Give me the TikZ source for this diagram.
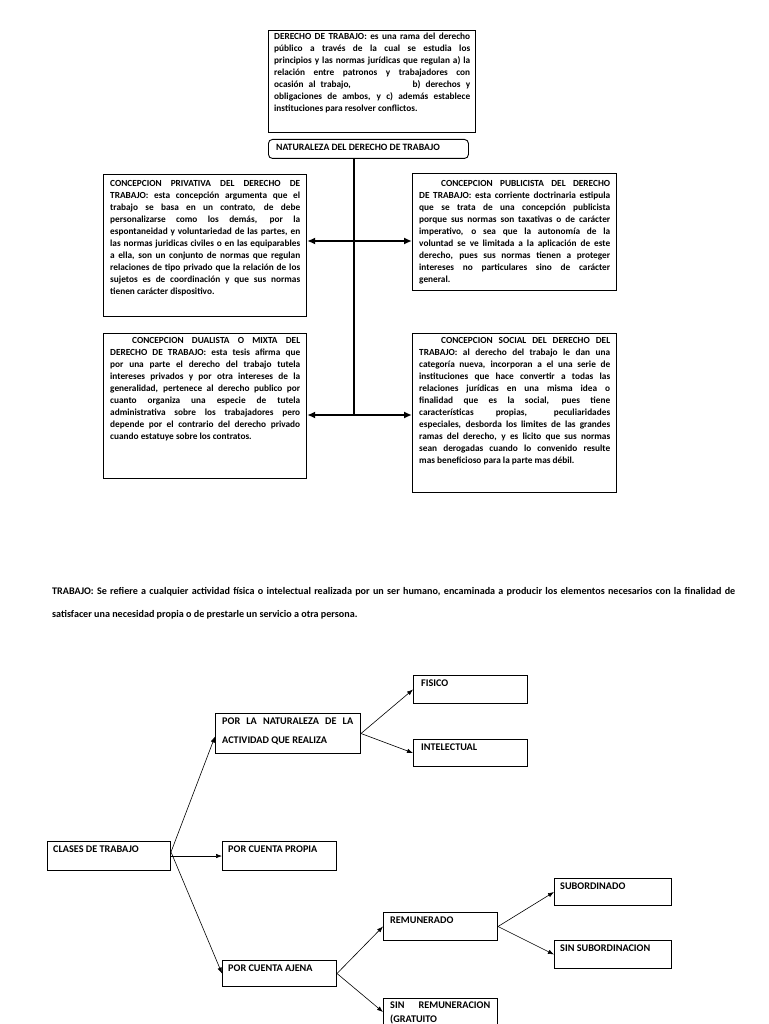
\documentclass[tikz,border=0pt]{standalone}
\usepackage{fontspec}
\setmainfont{Carlito}
\usetikzlibrary{arrows.meta}
\newcommand\jpar[2]{\parbox[t]{#1}{\fontsize{9.3}{12}\selectfont\bfseries\tolerance=10000\hyphenpenalty=10000\emergencystretch=20pt #2}}
\tikzset{
  bx/.style={draw=black, line width=1.1pt, anchor=north west, inner sep=0pt},
  sbx/.style={draw=black, line width=1pt, anchor=north west, inner sep=0pt},
  txt/.style={anchor=north west, inner sep=0pt},
  stxt/.style={anchor=north west, inner sep=0pt, font=\fontsize{10.2}{19}\selectfont\bfseries},
  dbl/.style={line width=1.6pt, {Latex[length=8pt,width=7pt]}-{Latex[length=8pt,width=7pt]}},
  trunk/.style={line width=1.6pt},
  arr/.style={line width=0.6pt, -{Latex[length=6pt,width=4.5pt]}}
}
\begin{document}
\begin{tikzpicture}[x=1pt,y=-1pt]
\useasboundingbox (0,0) rectangle (768,1024);
\fill[white] (0,0) rectangle (768,1024);

% top definition box
\node[bx, minimum width=207pt, minimum height=102pt] (def) at (268,30) {};
\node[txt] (deft) at ([xshift=6pt,yshift=-3pt]def.north west) {\jpar{196pt}{%
DERECHO DE TRABAJO: es una rama del derecho\linebreak
público a través de la cual se estudia los\linebreak
principios y las normas jurídicas que regulan a) la\linebreak
relación entre patronos y trabajadores con\linebreak
ocasión al trabajo, \hspace{50pt} b) derechos y\linebreak
obligaciones de ambos, y c) además establece\linebreak
instituciones para resolver conflictos.}};

% naturaleza box
\node[bx, line width=0.9pt, rounded corners=4pt, minimum width=200pt, minimum height=19pt] (nat) at (268,139) {};
\node[txt, font=\fontsize{9.7}{12}\selectfont\bfseries] (natt) at ([xshift=8pt,yshift=-5pt]nat.north west) {NATURALEZA DEL DERECHO DE TRABAJO};

% four concept boxes
\node[bx, minimum width=203pt, minimum height=142pt] (priv) at (103,174) {};
\node[txt] (privt) at ([xshift=7pt,yshift=-6pt]priv.north west) {\jpar{190pt}{%
CONCEPCION PRIVATIVA DEL DERECHO DE\linebreak
TRABAJO: esta concepción argumenta que el\linebreak
trabajo se basa en un contrato, de debe\linebreak
personalizarse como los demás, por la\linebreak
espontaneidad y voluntariedad de las partes, en\linebreak
las normas juridicas civiles o en las equiparables\linebreak
a ella, son un conjunto de normas que regulan\linebreak
relaciones de tipo privado que la relación de los\linebreak
sujetos es de coordinación y que sus normas\linebreak
tienen carácter dispositivo.}};

\node[bx, minimum width=204pt, minimum height=117pt] (pub) at (412,173) {};
\node[txt] (pubt) at ([xshift=7pt,yshift=-7pt]pub.north west) {\jpar{191pt}{%
\hspace*{22pt}CONCEPCION PUBLICISTA DEL DERECHO\linebreak
DE TRABAJO: esta corriente doctrinaria estipula\linebreak
que se trata de una concepción publicista\linebreak
porque sus normas son taxativas o de carácter\linebreak
imperativo, o sea que la autonomía de la\linebreak
voluntad se ve limitada a la aplicación de este\linebreak
derecho, pues sus normas tienen a proteger\linebreak
intereses no particulares sino de carácter\linebreak
general.}};

\node[bx, minimum width=203pt, minimum height=145pt] (dual) at (103,333) {};
\node[txt] (dualt) at ([xshift=7pt,yshift=-4pt]dual.north west) {\jpar{190pt}{%
\hspace*{22pt}CONCEPCION DUALISTA O MIXTA DEL\linebreak
DERECHO DE TRABAJO: esta tesis afirma que\linebreak
por una parte el derecho del trabajo tutela\linebreak
intereses privados y por otra intereses de la\linebreak
generalidad, pertenece al derecho publico por\linebreak
cuanto organiza una especie de tutela\linebreak
administrativa sobre los trabajadores pero\linebreak
depende por el contrario del derecho privado\linebreak
cuando estatuye sobre los contratos.}};

\node[bx, minimum width=204pt, minimum height=159pt] (soc) at (412,333) {};
\node[txt] (soct) at ([xshift=7pt,yshift=-4pt]soc.north west) {\jpar{191pt}{%
\hspace*{22pt}CONCEPCION SOCIAL DEL DERECHO DEL\linebreak
TRABAJO: al derecho del trabajo le dan una\linebreak
categoría nueva, incorporan a el una serie de\linebreak
instituciones que hace convertir a todas las\linebreak
relaciones jurídicas en una misma idea o\linebreak
finalidad que es la social, pues tiene\linebreak
características propias, peculiaridades\linebreak
especiales, desborda los limites de las grandes\linebreak
ramas del derecho, y es licito que sus normas\linebreak
sean derogadas cuando lo convenido resulte\linebreak
mas beneficioso para la parte mas débil.}};

% trunk and double arrows
\coordinate (j1) at (354,241);
\coordinate (j2) at (354,415);
\draw[trunk] (j1 |- nat.south) -- (j2);
\draw[dbl] (j1 -| priv.east) -- (j1 -| pub.west);
\draw[dbl] (j2 -| dual.east) -- (j2 -| soc.west);

% TRABAJO paragraph
\node[txt] (trab) at (52,587) {\parbox[t]{683pt}{\fontsize{10.1}{23}\selectfont\bfseries\tolerance=10000\hyphenpenalty=10000
TRABAJO: Se refiere a cualquier actividad física o intelectual realizada por un ser humano, encaminada a producir los elementos necesarios con la finalidad de\linebreak
satisfacer una necesidad propia o de prestarle un servicio a otra persona.}};

% lower tree
\node[sbx, minimum width=114pt, minimum height=28pt] (fis) at (413,675) {};
\node[stxt] at ([xshift=8pt,yshift=-5pt]fis.north west) {FISICO};
\node[sbx, minimum width=145pt, minimum height=40pt] (pln) at (215,713) {};
\node[stxt] at ([xshift=7pt,yshift=-5pt]pln.north west) {\parbox[t]{131pt}{POR LA NATURALEZA DE LA\linebreak ACTIVIDAD QUE REALIZA}};
\node[sbx, minimum width=114pt, minimum height=27pt] (int) at (413,739) {};
\node[stxt] at ([xshift=8pt,yshift=-5pt]int.north west) {INTELECTUAL};
\node[sbx, minimum width=123pt, minimum height=29pt] (cla) at (47,841) {};
\node[stxt] at ([xshift=6pt,yshift=-5pt]cla.north west) {CLASES DE TRABAJO};
\node[sbx, minimum width=114pt, minimum height=29pt] (pro) at (222,841) {};
\node[stxt] at ([xshift=6pt,yshift=-5pt]pro.north west) {POR CUENTA PROPIA};
\node[sbx, minimum width=117pt, minimum height=27pt] (sub) at (554,878) {};
\node[stxt] at ([xshift=6pt,yshift=-5pt]sub.north west) {SUBORDINADO};
\node[sbx, minimum width=114pt, minimum height=28pt] (rem) at (383,912) {};
\node[stxt] at ([xshift=7pt,yshift=-5pt]rem.north west) {REMUNERADO};
\node[sbx, minimum width=117pt, minimum height=28pt] (sin) at (554,940) {};
\node[stxt] at ([xshift=6pt,yshift=-5pt]sin.north west) {SIN SUBORDINACION};
\node[sbx, minimum width=114pt, minimum height=26pt] (aje) at (222,960) {};
\node[stxt] at ([xshift=6pt,yshift=-5pt]aje.north west) {POR CUENTA AJENA};
\node[sbx, minimum width=114pt, minimum height=40pt] (grat) at (383,998) {};
\node[stxt, font=\fontsize{10.2}{14}\selectfont\bfseries] at ([xshift=7pt,yshift=-4pt]grat.north west) {\parbox[t]{100pt}{SIN \hfill REMUNERACION\linebreak (GRATUITO}};

\coordinate (cl) at ([yshift=4pt]cla.east);
\draw[arr] (pln.east) -- (fis.west);
\draw[arr] (pln.east) -- (int.west);
\draw[arr] (cl) -- ([yshift=-3pt]pln.west);
\draw[arr] (cla.east) -- (pro.west);
\draw[arr] (cl) -- (aje.west);
\draw[arr] (aje.east) -- (rem.west);
\draw[arr] (aje.east) -- ([yshift=-14pt]grat.north west);
\draw[arr] (rem.east) -- (sub.west);
\draw[arr] (rem.east) -- (sin.west);
\end{tikzpicture}
\end{document}
